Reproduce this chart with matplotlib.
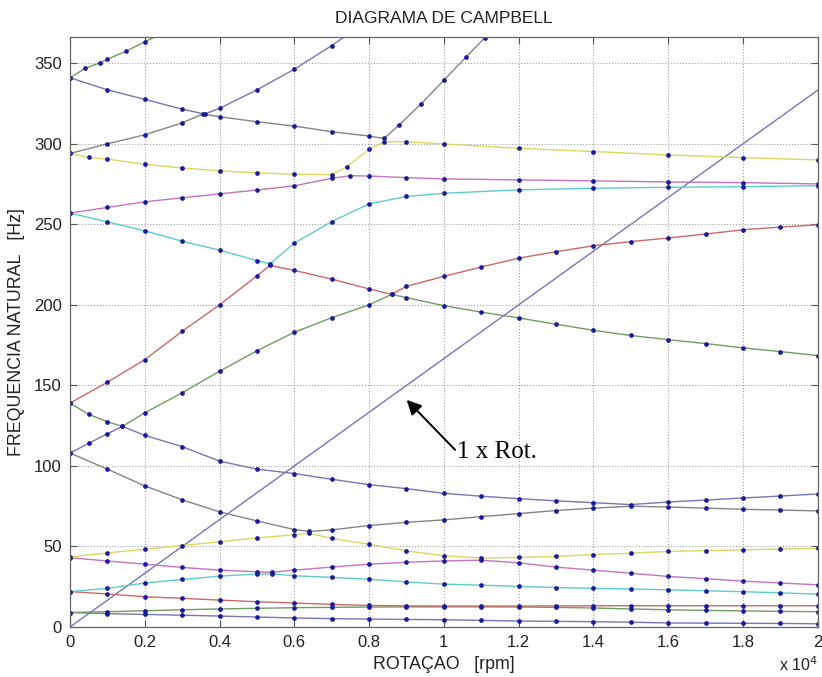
import matplotlib
matplotlib.use('Agg')
import matplotlib.pyplot as plt

matplotlib.rcParams['font.family'] = ['Liberation Sans', 'DejaVu Sans']
matplotlib.rcParams['font.size'] = 12

# natural frequencies [Hz] of each mode (sorted index)
rpm_grid = [0, 1000, 2000, 3000, 4000, 5000, 6000, 7000, 8000, 9000, 10000,
            11000, 12000, 13000, 14000, 15000, 16000, 17000, 18000, 19000, 20000]

hz_01 = [9.0, 8.3, 7.8, 7.3, 6.8, 6.2, 5.6, 5.2, 4.9, 4.7, 4.5,
         4.1, 3.7, 3.5, 3.3, 3.0, 2.5, 2.4, 2.3, 2.2, 2.0]
hz_02 = [9.0, 9.5, 10.1, 10.7, 11.2, 11.6, 12.0, 12.2, 12.4, 12.5, 12.5,
         12.5, 12.4, 12.2, 11.8, 11.2, 10.7, 10.3, 10.0, 9.7, 9.5]
hz_03 = [22.0, 20.5, 18.8, 17.8, 16.7, 15.7, 14.9, 14.0, 13.4, 13.1, 13.0,
         13.0, 13.0, 13.1, 13.2, 13.2, 13.2, 13.2, 13.2, 13.2, 13.2]

rpm_04 = [0, 1000, 2000, 3000, 4000, 5000, 5400, 6000, 7000, 8000, 9000, 10000,
          11000, 12000, 13000, 14000, 15000, 16000, 17000, 18000, 19000, 20000]
hz_04 = [22.0, 24.0, 27.3, 29.5, 31.6, 32.8, 33.0, 31.8, 30.8, 29.7, 28.0, 26.6,
         26.0, 25.2, 24.5, 24.0, 23.6, 23.1, 22.5, 21.9, 21.2, 20.4]
hz_05 = [43.0, 41.0, 39.0, 37.0, 35.3, 34.3, 34.0, 35.3, 37.2, 39.0, 40.2, 41.0,
         41.5, 39.8, 37.2, 35.3, 33.4, 31.4, 30.0, 28.5, 27.3, 26.2]

rpm_06 = [0, 1000, 2000, 3000, 4000, 5000, 6000, 6400, 7000, 8000, 9000, 10000,
          11000, 12000, 13000, 14000, 15000, 16000, 17000, 18000, 19000, 20000]
hz_06 = [43.5, 46.0, 48.3, 50.6, 52.9, 55.3, 57.3, 58.2, 55.0, 51.4, 47.3, 44.2,
         42.8, 43.2, 43.8, 45.0, 45.8, 46.9, 47.4, 47.9, 48.4, 48.8]
hz_07 = [108.0, 98.0, 87.6, 79.0, 71.5, 65.9, 60.5, 59.3, 60.3, 63.0, 65.0, 66.5,
         68.5, 70.4, 72.3, 73.8, 75.0, 74.5, 73.8, 73.1, 72.6, 72.1]

rpm_08 = [0, 500, 1000, 1400, 2000, 3000, 4000, 5000, 6000, 7000, 8000, 9000,
          10000, 11000, 12000, 13000, 14000, 15000, 16000, 17000, 18000, 19000, 20000]
hz_08 = [108.0, 114.0, 120.0, 124.5, 119.0, 112.0, 103.0, 98.0, 95.3, 91.7, 88.4, 85.9,
         83.0, 81.2, 79.7, 78.3, 77.2, 76.0, 77.6, 78.8, 80.1, 81.3, 82.6]

rpm_09 = [0, 500, 1000, 1400, 2000, 3000, 4000, 5000, 6000, 7000, 8000, 8600,
          9000, 10000, 11000, 12000, 13000, 14000, 15000, 16000, 17000, 18000, 19000, 20000]
hz_09 = [139.0, 132.0, 127.5, 124.5, 133.0, 145.4, 158.8, 171.5, 183.0, 192.0, 200.0, 206.5,
         204.5, 199.5, 195.5, 191.9, 188.0, 184.2, 181.0, 178.4, 176.0, 173.3, 171.0, 168.5]

rpm_10 = [0, 1000, 2000, 3000, 4000, 5000, 5350, 6000, 7000, 8000, 8600, 9000,
          10000, 11000, 12000, 13000, 14000, 15000, 16000, 17000, 18000, 19000, 20000]
hz_10 = [139.0, 152.0, 166.0, 183.6, 200.0, 218.0, 224.5, 221.4, 216.0, 209.9, 206.5, 211.5,
         217.7, 223.5, 229.0, 233.0, 236.7, 239.3, 241.5, 244.0, 246.6, 248.3, 249.7]

rpm_11 = [0, 1000, 2000, 3000, 4000, 5000, 5350, 6000, 7000, 8000, 9000, 10000,
          12000, 14000, 16000, 18000, 20000]
hz_11 = [257.0, 251.5, 246.0, 239.5, 234.0, 227.5, 225.5, 238.3, 251.7, 262.7, 267.3, 269.3,
         271.4, 272.4, 273.0, 273.4, 274.0]

rpm_12 = [0, 1000, 2000, 3000, 4000, 5000, 6000, 7000, 7500, 8000, 9000, 10000,
          12000, 14000, 16000, 18000, 20000]
hz_12 = [257.0, 260.5, 264.0, 266.5, 268.9, 271.3, 273.9, 278.6, 280.2, 280.0, 279.0, 278.2,
         277.6, 277.0, 276.3, 275.9, 275.1]

rpm_13 = [0, 500, 1000, 2000, 3000, 4000, 5000, 6000, 7000, 7400, 8000, 8400,
          9000, 10000, 12000, 14000, 16000, 18000, 20000]
hz_13 = [294.0, 291.5, 290.5, 287.3, 285.0, 283.2, 282.0, 281.1, 280.8, 285.8, 296.5, 301.3,
         301.3, 299.9, 297.2, 295.2, 293.1, 291.4, 290.0]

rpm_14 = [0, 1000, 2000, 3000, 3550, 4000, 5000, 6000, 7000, 8000, 8400, 8800,
          9400, 10000, 10600, 11100, 11500]
hz_14 = [294.0, 300.0, 305.6, 313.0, 318.5, 316.8, 313.7, 311.0, 307.5, 304.8, 303.3, 311.6,
         325.0, 339.5, 354.0, 366.0, 375.0]

rpm_15 = [0, 1000, 2000, 3000, 3600, 4000, 5000, 6000, 7000, 7500]
hz_15 = [341.0, 333.5, 327.6, 321.5, 318.5, 322.0, 333.5, 346.3, 361.0, 369.0]

rpm_16 = [0, 400, 800, 1000, 1500, 2000, 2500]
hz_16 = [341.0, 346.8, 350.3, 352.5, 357.5, 363.3, 369.0]

# 1 x rotation line
rot_rpm = [0, 20000]
rot_hz = [0, 333.3]

# matlab colour order (b g r c m y k), as it shows in the picture
c_b = '#7777b4'
c_g = '#6f9d62'
c_r = '#c86a6a'
c_c = '#5fcccc'
c_m = '#c274c2'
c_y = '#d9d962'
c_k = '#858585'

modes = [
    (rpm_grid, hz_01, c_b), (rpm_grid, hz_02, c_g), (rpm_grid, hz_03, c_r),
    (rpm_04, hz_04, c_c), (rpm_04, hz_05, c_m), (rpm_06, hz_06, c_y),
    (rpm_06, hz_07, c_k), (rpm_08, hz_08, c_b), (rpm_09, hz_09, c_g),
    (rpm_10, hz_10, c_r), (rpm_11, hz_11, c_c), (rpm_12, hz_12, c_m),
    (rpm_13, hz_13, c_y), (rpm_14, hz_14, c_k), (rpm_15, hz_15, c_b),
    (rpm_16, hz_16, c_g),
]

fig = plt.figure(figsize=(8.22, 6.77), dpi=100)
ax = fig.add_axes([70 / 822, 50 / 677, 747.7 / 822, 590.3 / 677])

ax.plot(rot_rpm, rot_hz, color=c_b, lw=1.0)
for x, y, col in modes:
    ax.plot(x, y, color=col, lw=1.0)
for x, y, col in modes:
    ax.plot(x, y, 'o', color='#1a1a9a', ms=3.4, mec='none')

ax.set_xlim(0, 20000)
ax.set_ylim(0, 366.5)
ax.set_xticks(range(0, 20001, 2000))
ax.set_xticklabels(['0', '0.2', '0.4', '0.6', '0.8', '1', '1.2', '1.4', '1.6', '1.8', '2'])
ax.set_yticks(range(0, 351, 50))
ax.tick_params(direction='in', top=True, right=True, length=5, width=0.8,
               color='#555555', labelcolor='#222222', pad=6)
ax.grid(True, linestyle=':', color='#a0a0a0', lw=0.8)
for s in ax.spines.values():
    s.set_color('#666666')
    s.set_linewidth(0.9)

ax.set_title('DIAGRAMA DE CAMPBELL', fontsize=12.5, pad=10, color='#222222')
ax.set_xlabel('ROTAÇAO   [rpm]', fontsize=12.8, labelpad=4, color='#222222')
ax.set_ylabel('FREQUENCIA NATURAL   [Hz]', fontsize=12.8, labelpad=6, color='#222222')
ax.text(1.0, -0.074, r'x 10$^4$', transform=ax.transAxes, ha='right', va='baseline',
        fontsize=11.5, color='#222222')

ax.annotate('', xy=(9006, 141), xytext=(10300, 110),
            arrowprops=dict(arrowstyle='-|>', color='black', lw=1.4,
                            mutation_scale=22, shrinkA=0, shrinkB=0))
ax.text(10360, 108.5, '1 x Rot.', family='Liberation Serif', fontsize=18,
        ha='left', va='center', color='black')

plt.savefig('out.png', dpi=100)
